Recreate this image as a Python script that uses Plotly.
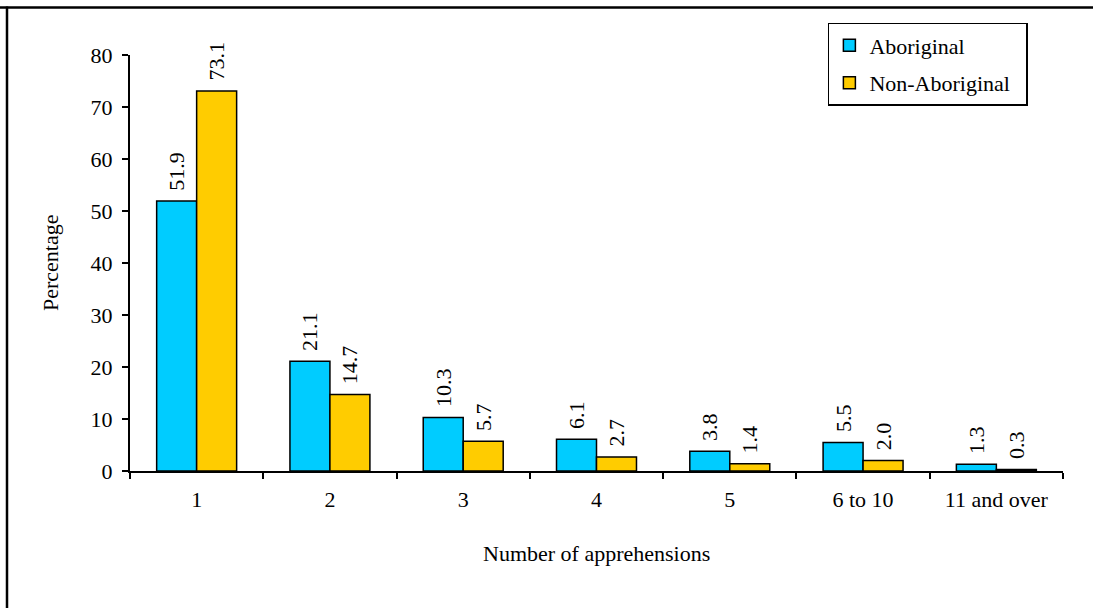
import plotly.graph_objects as go

categories = ["1", "2", "3", "4", "5", "6 to 10", "11 and over"]
aboriginal = [51.9, 21.1, 10.3, 6.1, 3.8, 5.5, 1.3]
non_aboriginal = [73.1, 14.7, 5.7, 2.7, 1.4, 2.0, 0.3]
y_ticks = [0, 10, 20, 30, 40, 50, 60, 70, 80]

FONT = "Liberation Serif"
FS = 22

def lbl(vals):
    return ["\u00a0\u200a" + f"{v:.1f}" for v in vals]

tf = dict(family=FONT, size=FS, color="black")

fig = go.Figure()
fig.add_trace(go.Bar(
    name="Aboriginal", x=categories, y=aboriginal, legendgroup="a",
    marker=dict(color="#00CCFF", line=dict(color="black", width=1.5)),
    text=lbl(aboriginal), textposition="outside", textangle=-90,
    textfont=tf, outsidetextfont=tf, insidetextfont=tf,
    constraintext="none", cliponaxis=False,
))
fig.add_trace(go.Bar(
    name="Non-Aboriginal\u00a0\u00a0", x=categories, y=non_aboriginal, legendgroup="b",
    marker=dict(color="#FFCC00", line=dict(color="black", width=1.5)),
    text=lbl(non_aboriginal), textposition="outside", textangle=-90,
    textfont=tf, outsidetextfont=tf, insidetextfont=tf,
    constraintext="none", cliponaxis=False,
))

fig.update_layout(
    width=1093, height=608,
    margin=dict(l=130, r=30, t=55, b=137),
    paper_bgcolor="white", plot_bgcolor="white",
    font=dict(family=FONT, size=FS, color="black"),
    barmode="group", bargap=0.4, bargroupgap=0,
    showlegend=True,
    legend=dict(
        x=0.748, y=1.077, xanchor="left", yanchor="top",
        bgcolor="white", bordercolor="black", borderwidth=1.5,
        font=dict(family=FONT, size=FS, color="black"),
        tracegroupgap=6,
    ),
    xaxis=dict(
        type="category", showline=True, linecolor="black", linewidth=2,
        ticks="outside", tickson="boundaries", ticklen=6, tickwidth=2,
        tickcolor="black", showgrid=False, zeroline=False,
        tickfont=dict(family=FONT, size=FS, color="black"),
        ticklabelstandoff=8,
    ),
    yaxis=dict(
        range=[0, 80], tickvals=y_ticks, showline=True, linecolor="black",
        linewidth=2, ticks="outside", ticklen=6, tickwidth=2, tickcolor="black",
        showgrid=False, zeroline=False,
        tickfont=dict(family=FONT, size=FS, color="black"),
        ticklabelstandoff=5,
    ),
    annotations=[
        dict(text="Percentage", xref="paper", yref="paper", x=0, y=0.5,
             xshift=-80, xanchor="center", yanchor="middle", textangle=-90,
             showarrow=False, font=dict(family=FONT, size=FS)),
        dict(text="Number of apprehensions", xref="paper", yref="paper",
             x=0.5, y=0, yshift=-82, xanchor="center", yanchor="middle",
             showarrow=False, font=dict(family=FONT, size=FS)),
    ],
    shapes=[
        dict(type="line", xref="paper", yref="paper", x0=-130/933, x1=1.2,
             y0=1 + 47.5/416, y1=1 + 47.5/416, line=dict(color="black", width=2.5)),
        dict(type="line", xref="paper", yref="paper", x0=-123/933, x1=-123/933,
             y0=1 + 48.5/416, y1=-0.5, line=dict(color="black", width=2.5)),
    ],
)

fig.write_html("out.html", config={"displayModeBar": False},
               post_script="document.body.style.margin='0';")
